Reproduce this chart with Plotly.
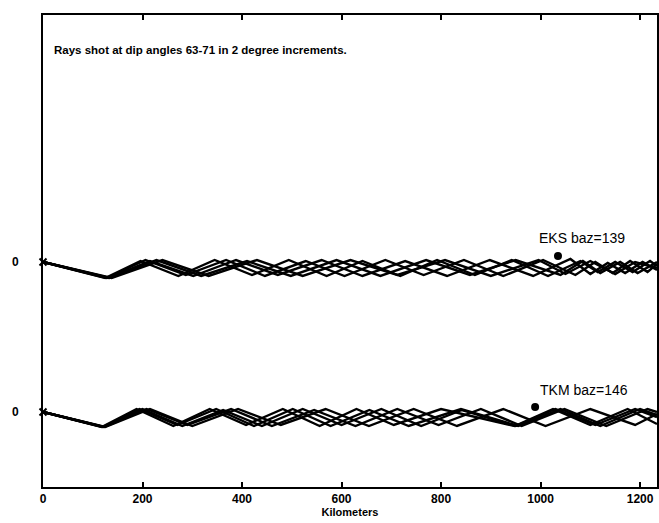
import plotly.graph_objects as go

# ---- data (km along profile, relative depth units) ----
dip_angles = [63, 65, 67, 69, 71]

eks_x = [
    [0, 138, 240, 333, 430, 522, 618, 712, 808, 900, 996, 1050, 1100, 1150, 1190, 1234],
    [0, 134, 228, 318, 410, 498, 590, 678, 770, 858, 950, 1040, 1085, 1120, 1160, 1195, 1234],
    [0, 131, 215, 302, 388, 472, 560, 642, 728, 812, 898, 985, 1060, 1100, 1135, 1170, 1205, 1234],
    [0, 128, 206, 287, 368, 446, 528, 606, 688, 765, 846, 925, 1005, 1070, 1110, 1145, 1180, 1215, 1234],
    [0, 125, 196, 272, 345, 420, 494, 570, 642, 718, 792, 868, 942, 1015, 1080, 1115, 1150, 1185, 1220, 1234],
]
eks_y = [
    [0, -16, 2, -14, 2, -14, 2, -13, 2, -14, 2, -12, 1, -12, 0, -6],
    [0, -16, 2, -14, 1, -14, 2, -14, 2, -13, 2, -13, 1, -11, 0, -11, 0],
    [0, -16, 1, -14, 2, -13, 2, -14, 1, -14, 2, -14, 3, -12, -1, -11, 0, -8],
    [0, -16, 2, -13, 2, -14, 1, -14, 2, -13, 2, -14, 2, -13, 0, -11, 1, -10, -2],
    [0, -16, 1, -14, 2, -13, 2, -14, 1, -14, 2, -13, 2, -14, 1, -10, 0, -10, 1, -4],
]

tkm_x = [
    [0, 125, 215, 300, 392, 478, 568, 655, 745, 832, 925, 1010, 1100, 1190, 1234],
    [0, 123, 208, 290, 378, 460, 545, 628, 712, 795, 880, 962, 1048, 1132, 1215, 1234],
    [0, 121, 200, 280, 362, 440, 522, 600, 680, 760, 842, 950, 1030, 1110, 1190, 1234],
    [0, 120, 194, 270, 348, 424, 502, 578, 656, 735, 840, 955, 1040, 1120, 1200, 1234],
    [0, 118, 188, 262, 335, 408, 482, 556, 630, 705, 800, 948, 1025, 1100, 1175, 1234],
]
tkm_y = [
    [0, -15, 3, -14, 3, -13, 3, -14, 3, -14, 3, -14, 3, -13, -2],
    [0, -15, 3, -13, 3, -14, 2, -14, 3, -13, 3, -14, 3, -14, 3, 0],
    [0, -15, 3, -14, 2, -14, 3, -13, 3, -14, 2, -14, 3, -13, 3, -5],
    [0, -15, 3, -13, 3, -14, 3, -14, 2, -14, 3, -14, 3, -14, 3, -3],
    [0, -15, 3, -14, 3, -13, 3, -14, 3, -13, 3, -14, 3, -13, 3, -12],
]

stations = ["EKS baz=139", "TKM baz=146"]
station_offsets = [0, -150]
station_x = [1035, 989]
station_y = [6, 5]
label_x = [1083, 1087]
label_y = [24, 22]

x_ticks = [0, 200, 400, 600, 800, 1000, 1200]
title_text = "Rays shot at dip angles 63-71 in 2 degree increments."

FONT = "Liberation Sans, Arial, sans-serif"

fig = go.Figure()

for rays_x, rays_y, off in [(eks_x, eks_y, station_offsets[0]), (tkm_x, tkm_y, station_offsets[1])]:
    for xs, ys, ang in zip(rays_x, rays_y, dip_angles):
        fig.add_trace(go.Scatter(
            x=xs, y=[v + off for v in ys], mode="lines",
            line=dict(color="black", width=2.4), name=f"{ang}°", showlegend=False,
            hoverinfo="skip"))

# start markers
fig.add_trace(go.Scatter(
    x=[0, 0], y=station_offsets, mode="markers",
    marker=dict(symbol="x-thin", size=7, line=dict(color="black", width=2)),
    showlegend=False, cliponaxis=False))

# station markers
fig.add_trace(go.Scatter(
    x=station_x, y=[v + o for v, o in zip(station_y, station_offsets)], mode="markers",
    marker=dict(symbol="circle", size=8, color="black"), showlegend=False))

for lab, lx, ly, o in zip(stations, label_x, label_y, station_offsets):
    fig.add_annotation(x=lx, y=ly + o, text=lab, showarrow=False,
                       font=dict(family=FONT, size=14, color="black"),
                       xanchor="center", yanchor="middle")

fig.add_annotation(x=18, y=212, text=title_text, showarrow=False,
                   font=dict(family=FONT, size=11.5, color="black", weight="bold"),
                   xanchor="left", yanchor="middle")

fig.update_layout(
    width=659, height=523,
    margin=dict(l=43, r=2, t=15, b=36, autoexpand=False),
    paper_bgcolor="white", plot_bgcolor="white",
    font=dict(family=FONT, color="black"),
)
fig.update_xaxes(
    range=[0, 1234], tickvals=x_ticks, ticktext=[str(t) for t in x_ticks],
    showgrid=False, zeroline=False, showline=True, linecolor="black", linewidth=2,
    mirror="allticks", ticks="inside", ticklen=5, tickwidth=1.5, tickcolor="black",
    tickfont=dict(family=FONT, size=12, color="black", weight="bold"),
    title=dict(text="Kilometers", standoff=0,
               font=dict(family=FONT, size=11, color="black", weight="bold")),
    automargin=False,
)
fig.update_yaxes(
    range=[-225, 247], tickvals=station_offsets, ticktext=["0", "0"],
    showgrid=False, zeroline=False, showline=True, linecolor="black", linewidth=2,
    mirror=True, ticks="", ticklabelstandoff=20,
    tickfont=dict(family=FONT, size=12, color="black", weight="bold"),
    automargin=False,
)

fig.write_html("out.html", config={"displayModeBar": False},
               post_script="document.body.style.margin='0';document.body.style.padding='0';")
